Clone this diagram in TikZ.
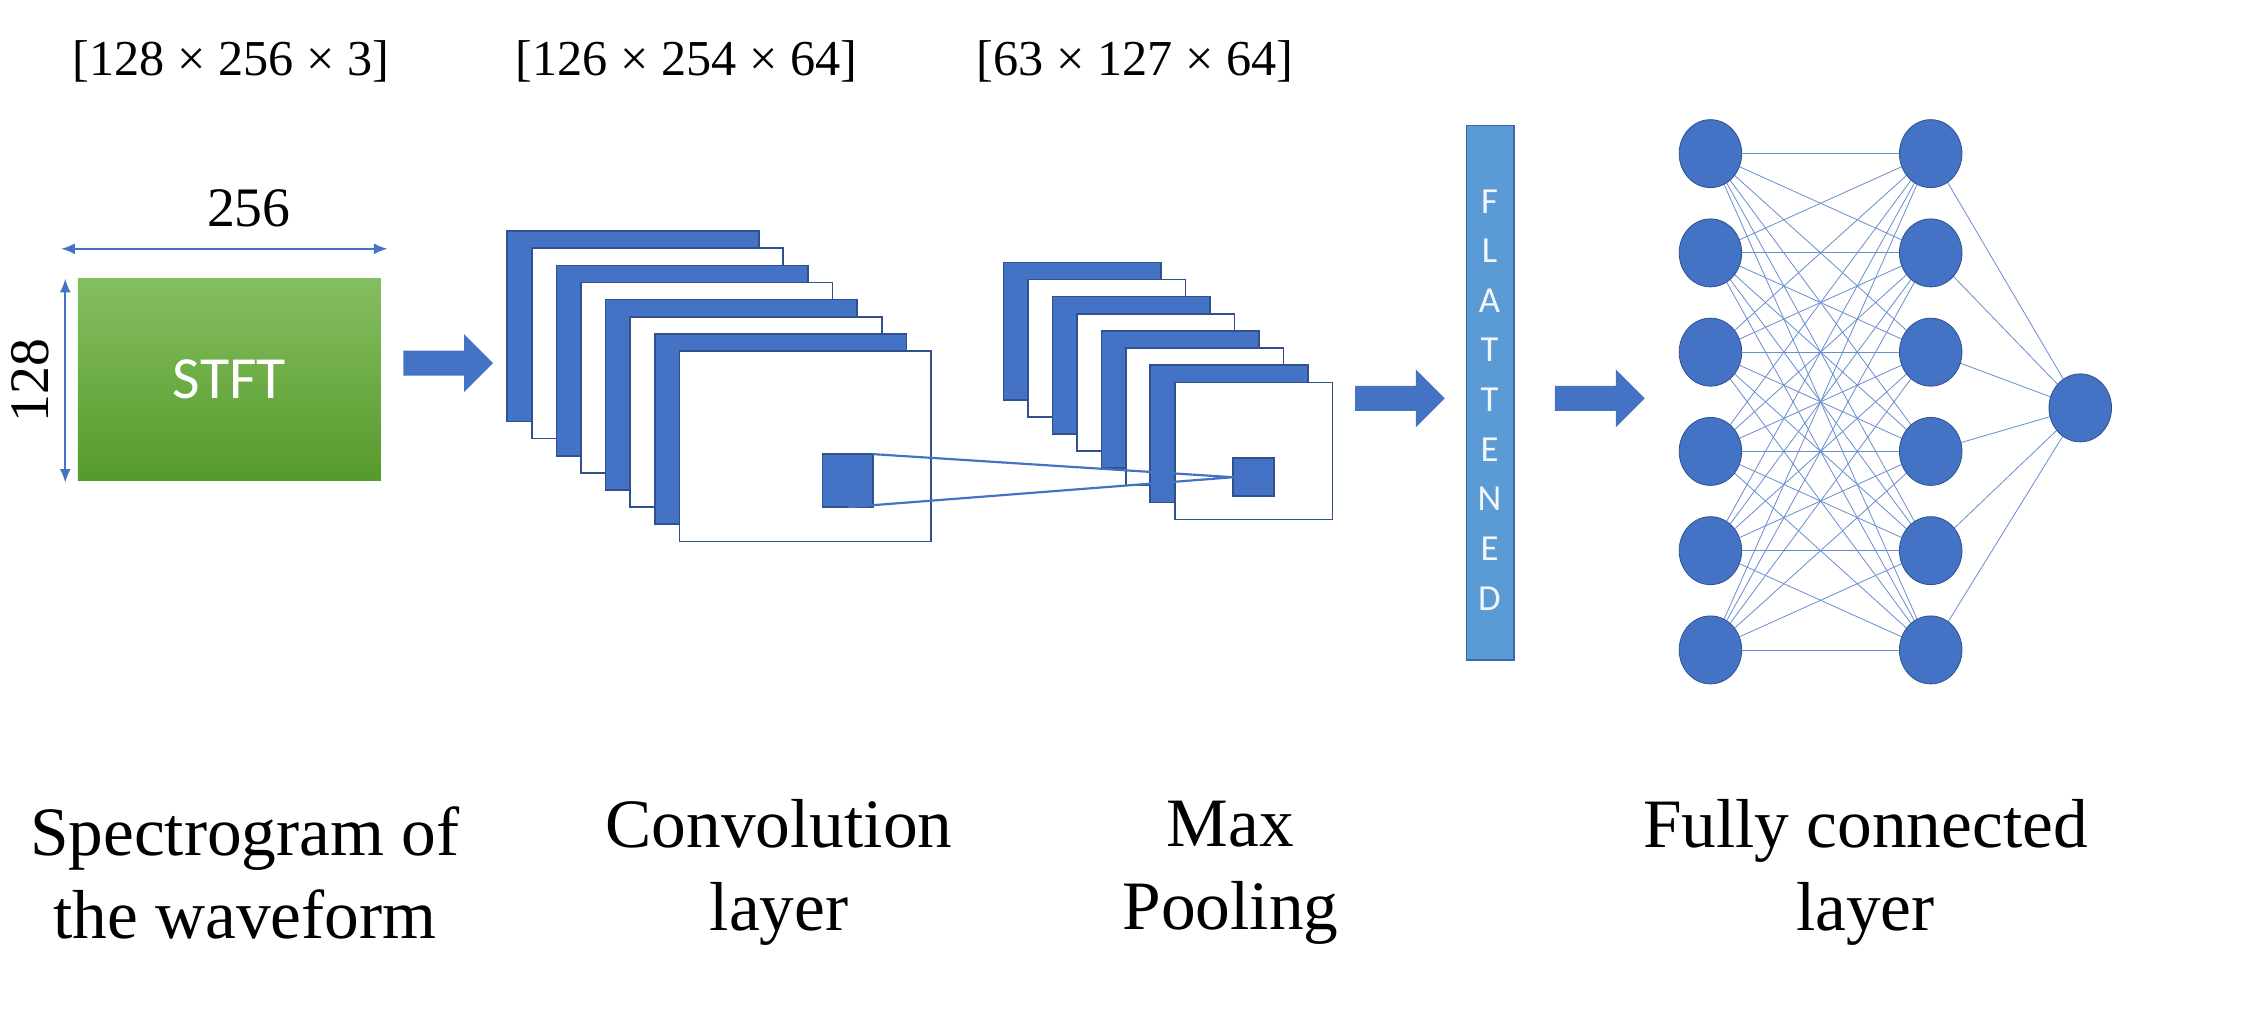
\documentclass[tikz,border=0pt]{standalone}
\usepackage{fontspec}
\setmainfont{Liberation Serif}
\newfontfamily\sansf{Carlito}
\usetikzlibrary{shapes.arrows,shapes.geometric,arrows.meta}
\definecolor{bl}{HTML}{4472C4}
\definecolor{bld}{HTML}{2F528F}
\definecolor{fl}{HTML}{5B9BD5}
\definecolor{gtop}{RGB}{133,190,95}
\definecolor{gbot}{RGB}{86,154,44}
\begin{document}
\begin{tikzpicture}[x=1pt,y=-1pt,
  big/.style={font=\fontsize{51}{61}\selectfont,align=center},
  dim/.style={font=\fontsize{37}{44}\selectfont},
  fmap/.style={anchor=north west,inner sep=0,outer sep=0,draw=bld,line width=1.2pt},
  blk/.style={single arrow,fill=bl,draw=none,inner sep=9pt,minimum height=66pt,single arrow head extend=12pt},
  neur/.style={ellipse,fill=bl,draw=bld,line width=0.6pt,minimum width=46pt,minimum height=50pt,inner sep=0},
  syn/.style={draw=bl!80,line width=0.6pt},
  dimar/.style={draw=bl,line width=1.3pt,{Latex[length=10pt,width=8pt]}-{Latex[length=10pt,width=8pt]}}]
\useasboundingbox (0,0) rectangle (1660,754);
% top dims
\node[dim] (d1) at (170,45) {[128 × 256 × 3]};
\node[dim] (d2) at (505,45) {[126 × 254 × 64]};
\node[dim] (d3) at (835,45) {[63 × 127 × 64]};
% spectrogram
\node[anchor=north west,minimum width=223pt,minimum height=148pt,inner sep=0,
  top color=gtop,bottom color=gbot,
  text=white,font=\sansf\fontsize{44}{48}\selectfont] (stft) at (57,205) {STFT};
\coordinate (h1) at (45,183); \coordinate (h2) at (285,183);
\draw[dimar] (h1) -- (h2);
\node[font=\fontsize{41}{46}\selectfont] (l256) at (183,153) {256};
\coordinate (v1) at (48,205); \coordinate (v2) at (48,355);
\draw[dimar] (v1) -- (v2);
\node[font=\fontsize{41}{46}\selectfont,rotate=90] (l128) at (22,280) {128};
% arrows
\node[blk] (a1) at (325,267) {};
% conv stack
\foreach \i in {0,...,7}{
  \pgfmathsetmacro{\xx}{373+18.1*\i}
  \pgfmathsetmacro{\yy}{170+12.6*\i}
  \ifodd\i \node[fmap,fill=white,minimum width=185pt,minimum height=140pt] (c\i) at (\xx,\yy) {};
  \else \node[fmap,fill=bl,minimum width=185pt,minimum height=140pt] (c\i) at (\xx,\yy) {};\fi
}
\node[fmap,fill=bl,minimum width=37pt,minimum height=39pt] (k1) at (605,334) {};
% pool stack
\foreach \i in {0,...,7}{
  \pgfmathsetmacro{\xx}{738+18*\i}
  \pgfmathsetmacro{\yy}{193+12.6*\i}
  \ifodd\i \node[fmap,fill=white,minimum width=116pt,minimum height=101pt] (p\i) at (\xx,\yy) {};
  \else \node[fmap,fill=bl,minimum width=116pt,minimum height=101pt] (p\i) at (\xx,\yy) {};\fi
}
\node[fmap,fill=bl,minimum width=30pt,minimum height=28pt] (k2) at (907,337) {};
\draw[bl,line width=1.6pt] (k1.north east) -- (k2.west) -- (k1.south);
% flatten
\node[blk] (a2) at (1025,293) {};
\node[anchor=north west,minimum width=35pt,minimum height=393pt,inner sep=0,fill=fl,draw=bl!90!black,line width=1pt] (fl) at (1078,92) {};
\foreach \c [count=\j from 0] in {F,L,A,T,T,E,N,E,D}
  \node[text=white!92!fl,font=\sansf\fontsize{27}{29}\selectfont] (fl\j) at (1095.5,148+36.5*\j) {\c};
\node[blk] (a3) at (1172,293) {};
% network
\foreach \j in {0,...,5}{
  \coordinate (n\j) at (1258,113+73*\j);
  \coordinate (m\j) at (1420,113+73*\j);
}
\coordinate (o) at (1530,300);
\foreach \a in {0,...,5}{
  \foreach \b in {0,...,5}{ \draw[syn] (n\a) -- (m\b); }
  \draw[syn] (m\a) -- (o);
}
\foreach \j in {0,...,5}{
  \node[neur] (N\j) at (n\j) {};
  \node[neur] (M\j) at (m\j) {};
}
\node[neur] (O) at (o) {};
% bottom labels
\node[big] (t1) at (180,642) {Spectrogram of\\the waveform};
\node[big] (t2) at (573,642) {Convolution\\layer};
\node[big] (t3) at (905,642) {Max\\Pooling};
\node[big] (t4) at (1372,642) {Fully connected\\layer};
\end{tikzpicture}
\end{document}
